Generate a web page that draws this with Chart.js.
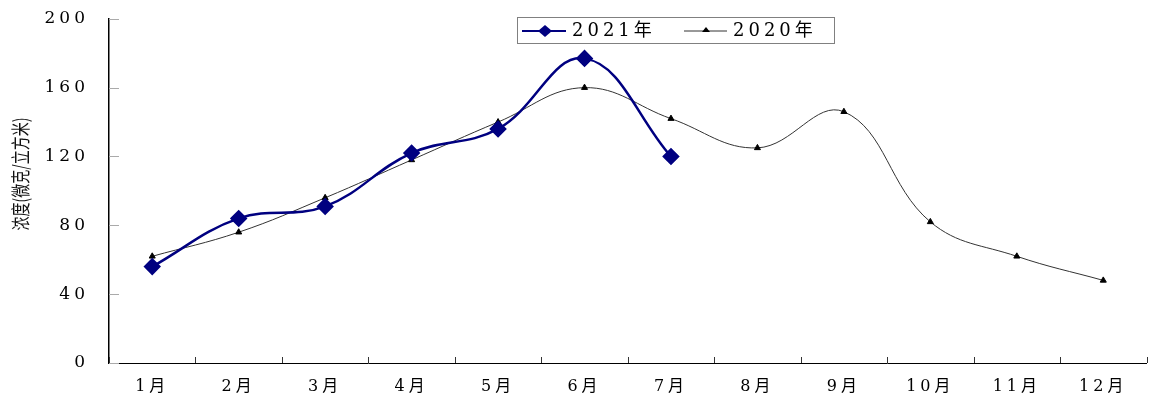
<!DOCTYPE html>
<html lang="zh">
<head>
  <meta charset="UTF-8">
  <title>浓度月变化</title>
  <script src="https://cdn.jsdelivr.net/npm/chart.js"></script>
  <style>
    body { margin: 0; background: #fff; }
    .wrap { width: 1156px; height: 402px; position: relative; }
  </style>
</head>
<body>
  <div class="wrap"><canvas id="chart"></canvas></div>
  <script>
    // data
    const months = ['1月', '2月', '3月', '4月', '5月', '6月', '7月', '8月', '9月', '10月', '11月', '12月'];
    const values2021 = [56, 84, 91, 122, 136, 177, 120];
    const values2020 = [62, 76, 96, 118, 140, 160, 142, 125, 146, 82, 62, 48];
    const yTicks = [0, 40, 80, 120, 160, 200];
    const seriesNames = ['2021年', '2020年'];
    const yTitle = '浓度(微克/立方米)';

    const serif = "'DejaVu Serif', 'Noto Sans CJK SC', serif";
    const navy = '#000080';

    // wide-looking text like the original
    const spacingPlugin = {
      id: 'spacing',
      beforeUpdate(chart) { chart.ctx.letterSpacing = '4px'; },
      beforeDraw(chart) { chart.ctx.letterSpacing = '4px'; }
    };

    // tick marks pointing into the plot, as in the original
    const innerTicks = {
      id: 'innerTicks',
      beforeDatasetsDraw(chart) {
        const ctx = chart.ctx;
        const x = chart.scales.x, y = chart.scales.y;
        ctx.save();
        ctx.lineWidth = 1;
        ctx.strokeStyle = '#aaa';
        yTicks.forEach(v => {
          const py = Math.round(y.getPixelForValue(v)) + 0.5;
          ctx.beginPath(); ctx.moveTo(x.left, py); ctx.lineTo(x.left + 10, py); ctx.stroke();
        });
        ctx.strokeStyle = '#333';
        for (let i = 0; i <= months.length; i++) {
          const px = Math.round(x.getPixelForValue(i - 0.5)) + 0.5;
          ctx.beginPath(); ctx.moveTo(px, y.bottom); ctx.lineTo(px, y.bottom - 6); ctx.stroke();
        }
        ctx.restore();
      }
    };

    // y title and the boxed legend inside the plot
    const extrasPlugin = {
      id: 'extras',
      afterDraw(chart) {
        const ctx = chart.ctx;
        ctx.save();
        ctx.letterSpacing = '0px';
        ctx.fillStyle = '#111';
        ctx.font = "14px 'Noto Sans CJK SC'";
        ctx.textAlign = 'center';
        ctx.textBaseline = 'middle';
        ctx.translate(21, 174);
        ctx.rotate(-Math.PI / 2);
        ctx.scale(1, 1.4);
        ctx.fillText(yTitle, 0, 0);
        ctx.restore();

        ctx.save();
        ctx.letterSpacing = '4px';
        ctx.fillStyle = '#fff';
        ctx.fillRect(517, 17, 317, 26);
        ctx.strokeStyle = '#808080';
        ctx.lineWidth = 1;
        ctx.strokeRect(517.5, 17.5, 317, 26);

        // 2021 item
        ctx.strokeStyle = navy;
        ctx.lineWidth = 2;
        ctx.beginPath(); ctx.moveTo(522, 31); ctx.lineTo(566, 31); ctx.stroke();
        ctx.fillStyle = navy;
        ctx.beginPath();
        ctx.moveTo(545, 25); ctx.lineTo(552, 31); ctx.lineTo(545, 37); ctx.lineTo(538, 31);
        ctx.closePath(); ctx.fill();

        // 2020 item
        ctx.strokeStyle = '#333';
        ctx.lineWidth = 1;
        ctx.beginPath(); ctx.moveTo(684, 31); ctx.lineTo(727, 31); ctx.stroke();
        ctx.fillStyle = '#000';
        ctx.beginPath();
        ctx.moveTo(706, 27); ctx.lineTo(710, 32); ctx.lineTo(702, 32);
        ctx.closePath(); ctx.fill();

        ctx.fillStyle = '#000';
        ctx.font = '18px ' + serif;
        ctx.textAlign = 'left';
        ctx.textBaseline = 'middle';
        ctx.fillText(seriesNames[0], 572, 31);
        ctx.fillText(seriesNames[1], 733, 31);
        ctx.restore();
      }
    };

    new Chart(document.getElementById('chart'), {
      type: 'line',
      data: {
        labels: months,
        datasets: [{
          label: seriesNames[0],
          data: values2021,
          borderColor: navy,
          backgroundColor: navy,
          borderWidth: 2.5,
          pointStyle: 'rectRot',
          pointRadius: 7,
          pointBackgroundColor: navy,
          pointBorderColor: navy,
          tension: 0.4,
          fill: false
        }, {
          label: seriesNames[1],
          data: values2020,
          borderColor: '#333',
          backgroundColor: '#000',
          borderWidth: 1,
          pointStyle: 'triangle',
          pointRadius: 3.5,
          pointBackgroundColor: '#000',
          pointBorderColor: '#000',
          tension: 0.4,
          fill: false
        }]
      },
      options: {
        responsive: true,
        maintainAspectRatio: false,
        animation: false,
        layout: { padding: { left: 0, right: 4, top: 7, bottom: 0 } },
        plugins: {
          legend: { display: false },
          tooltip: { enabled: false }
        },
        scales: {
          x: {
            offset: true,
            grid: { display: false },
            border: { display: true, color: '#000', width: 1 },
            ticks: { color: '#000', font: { family: serif, size: 16 }, padding: 6, maxRotation: 0 },
            afterFit(scale) { scale.height = 39; }
          },
          y: {
            min: 0,
            max: 200,
            afterBuildTicks(scale) { scale.ticks = yTicks.map(v => ({ value: v })); },
            grid: { display: false },
            border: { display: true, color: '#000', width: 1.5 },
            ticks: { color: '#000', font: { family: serif, size: 17, lineHeight: 0.8 }, padding: 12 },
            afterFit(scale) { scale.width = 109; }
          }
        }
      },
      plugins: [spacingPlugin, innerTicks, extrasPlugin]
    });
  </script>
</body>
</html>
